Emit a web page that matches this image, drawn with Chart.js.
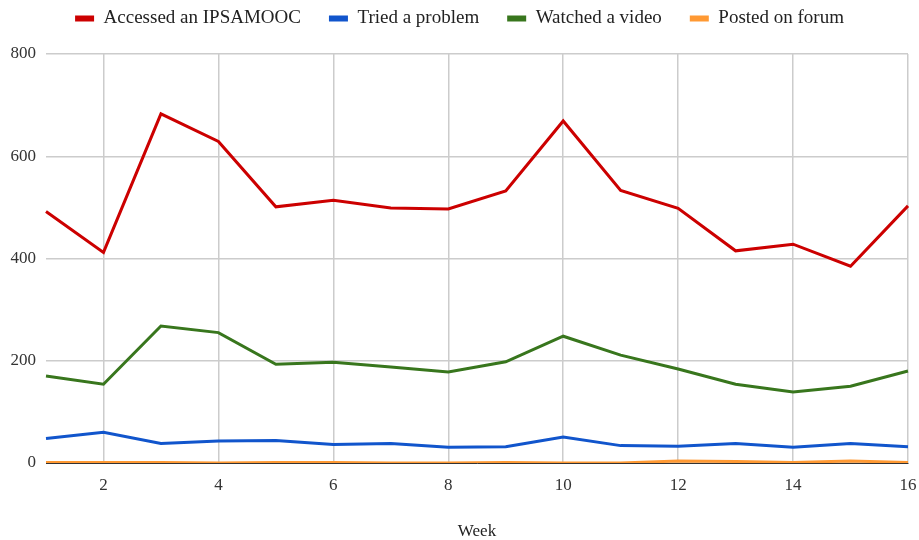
<!DOCTYPE html>
<html lang="en">
<head>
    <meta charset="UTF-8">
    <title>Weekly activity</title>
    <script src="https://cdn.jsdelivr.net/npm/chart.js"></script>
    <style>
        html, body { margin: 0; padding: 0; background: #fff; }
        .wrap { width: 919px; height: 540px; position: relative; }
    </style>
</head>
<body>
    <div class="wrap">
        <canvas id="weekChart"></canvas>
    </div>

    <script>
        const weeks = [1, 2, 3, 4, 5, 6, 7, 8, 9, 10, 11, 12, 13, 14, 15, 16];
        const accessed = [492, 412, 683, 629, 501, 514, 499, 497, 532, 669, 533, 498, 415, 428, 385, 503];
        const triedProblem = [48, 60, 38, 43, 44, 36, 38, 31, 32, 51, 34, 33, 38, 31, 38, 32];
        const watchedVideo = [170, 154, 268, 255, 193, 197, 188, 178, 198, 248, 211, 184, 154, 139, 150, 180];
        const postedForum = [1, 1, 1, 0, 1, 1, 0, 0, 1, 0, 0, 4, 3, 1, 4, 1];
        const yTicks = [0, 200, 400, 600, 800];

        const fontFam = "'Liberation Serif', 'DejaVu Serif', serif";
        Chart.defaults.font.family = fontFam;
        Chart.defaults.color = '#444';

        function line(label, data, color) {
            return {
                label: label,
                data: data,
                borderColor: color,
                backgroundColor: color,
                borderWidth: 3,
                pointRadius: 0,
                tension: 0,
                fill: false
            };
        }

        // tweak the room the legend takes
        const legendGap = {
            id: 'legendGap',
            beforeInit(chart) {
                const origFit = chart.legend.fit;
                chart.legend.fit = function () {
                    origFit.bind(chart.legend)();
                    this.height += 16;
                };
            }
        };

        new Chart(document.getElementById('weekChart').getContext('2d'), {
            type: 'line',
            data: {
                labels: weeks,
                datasets: [
                    line('Accessed an IPSAMOOC', accessed, '#cc0000'),
                    line('Tried a problem', triedProblem, '#1155cc'),
                    line('Watched a video', watchedVideo, '#38761d'),
                    line('Posted on forum', postedForum, '#ff9933')
                ]
            },
            plugins: [legendGap],
            options: {
                responsive: true,
                maintainAspectRatio: false,
                animation: false,
                layout: { padding: { left: 0, right: 0, top: -19, bottom: 0 } },
                plugins: {
                    legend: {
                        position: 'top',
                        labels: {
                            boxWidth: 19,
                            boxHeight: 6,
                            padding: 28,
                            color: '#222',
                            font: { size: 19, family: fontFam },
                            generateLabels: (chart) => Chart.defaults.plugins.legend.labels.generateLabels(chart).map(l => { l.lineWidth = 0; return l; })
                        }
                    },
                    tooltip: { enabled: false }
                },
                scales: {
                    x: {
                        offset: false,
                        afterFit: (scale) => { scale.height = 77; scale.paddingRight = 11; scale.paddingLeft = 0; },
                        grid: {
                            color: (ctx) => (ctx.tick && weeks[ctx.index] % 2 === 0) ? '#cccccc' : 'rgba(0,0,0,0)',
                            lineWidth: 1.5,
                            drawTicks: false
                        },
                        border: { display: true, color: '#333', width: 1 },
                        ticks: {
                            autoSkip: false,
                            maxRotation: 0,
                            padding: 12,
                            color: '#333',
                            font: { size: 17, family: fontFam },
                            callback: function (value, index) {
                                return weeks[index] % 2 === 0 ? String(weeks[index]) : '';
                            }
                        },
                        title: {
                            display: true,
                            text: 'Week',
                            color: '#222',
                            font: { size: 17, family: fontFam },
                            padding: { top: 12, bottom: -2 }
                        }
                    },
                    y: {
                        min: 0,
                        max: 800,
                        afterBuildTicks: (scale) => { scale.ticks = yTicks.map(v => ({ value: v })); },
                        afterFit: (scale) => { scale.width = 46; },
                        grid: { color: '#cccccc', lineWidth: 1.5, drawTicks: false },
                        border: { display: false },
                        ticks: {
                            padding: 10,
                            color: '#333',
                            font: { size: 17, family: fontFam }
                        }
                    }
                }
            }
        });
    </script>
</body>
</html>
